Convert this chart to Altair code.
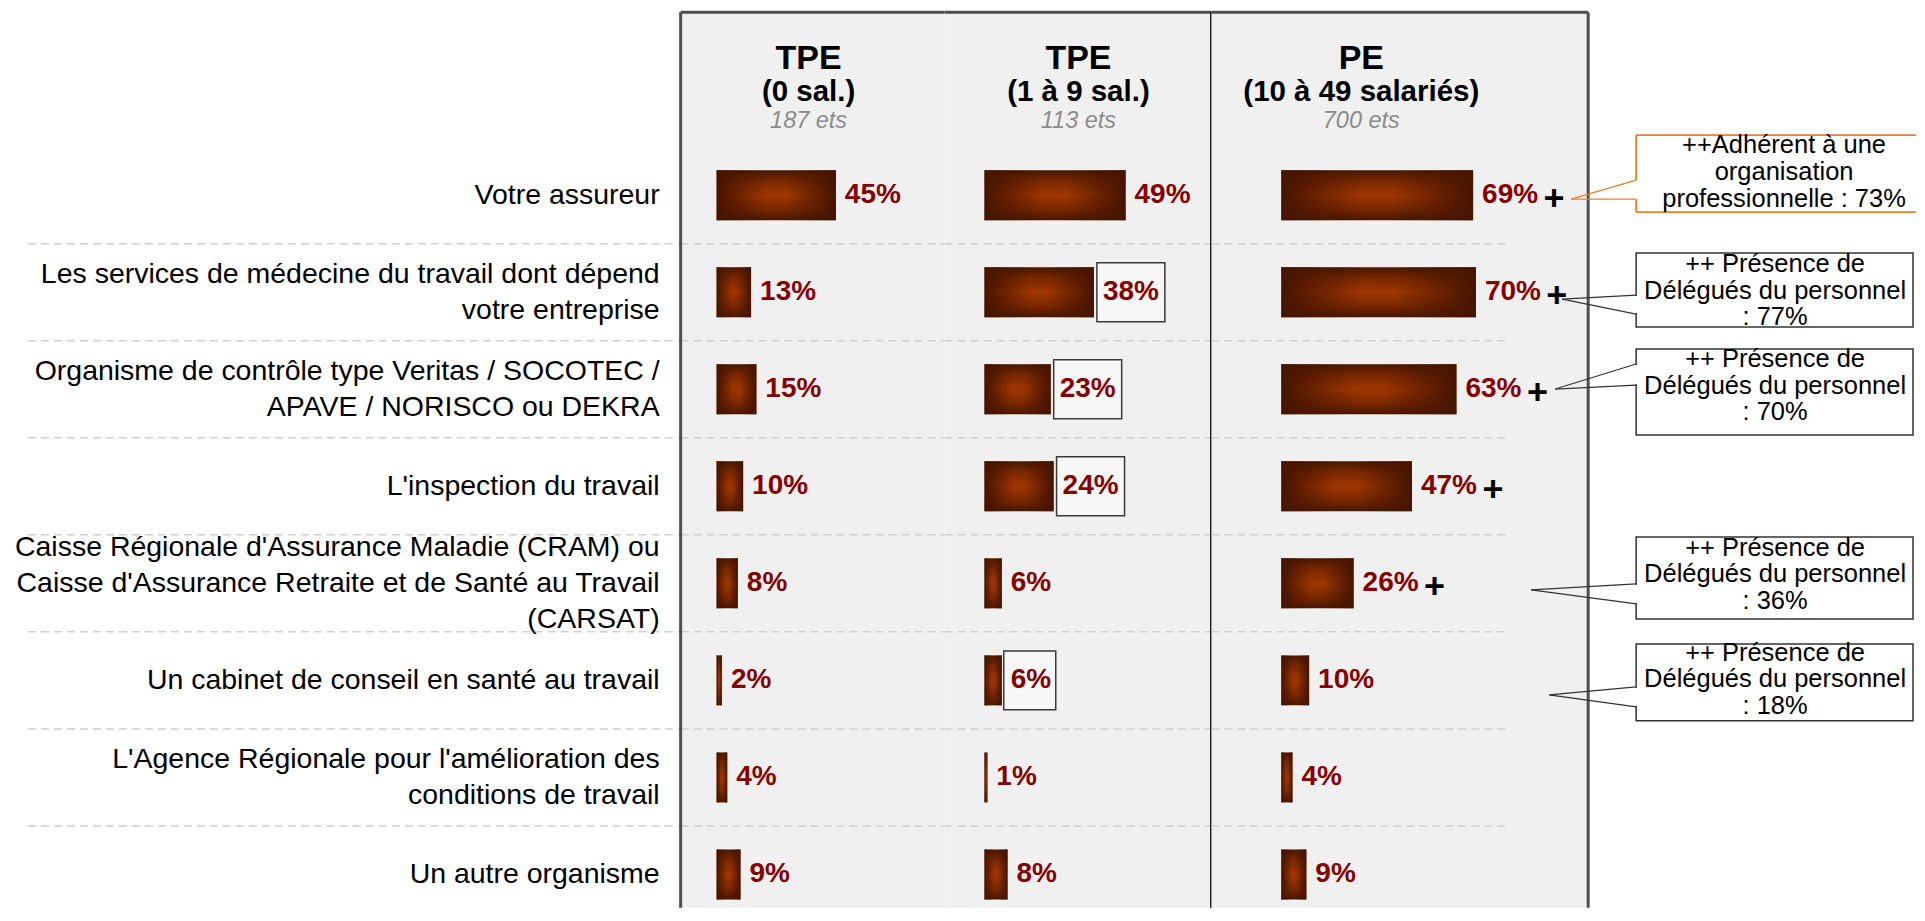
import altair as alt
import pandas as pd

# ---------------- data ----------------
row_labels = [
    "Votre assureur",
    "Les services de médecine du travail dont dépend|votre entreprise",
    "Organisme de contrôle type Veritas / SOCOTEC /|APAVE / NORISCO ou DEKRA",
    "L'inspection du travail",
    "Caisse Régionale d'Assurance Maladie (CRAM) ou|Caisse d'Assurance Retraite et de Santé au Travail|(CARSAT)",
    "Un cabinet de conseil en santé au travail",
    "L'Agence Régionale pour l'amélioration des|conditions de travail",
    "Un autre organisme",
]
tpe0_values = [45, 13, 15, 10, 8, 2, 4, 9]
tpe19_values = [49, 38, 23, 24, 6, 6, 1, 8]
pe_values = [69, 70, 63, 47, 26, 10, 4, 9]
tpe19_boxed = [0, 1, 1, 1, 0, 1, 0, 0]
pe_plus = [1, 1, 1, 1, 1, 0, 0, 0]

header_main = ["TPE", "TPE", "PE"]
header_sub = ["(0 sal.)", "(1 à 9 sal.)", "(10 à 49 salariés)"]
header_base = ["187 ets", "113 ets", "700 ets"]

callout_texts = [
    "++Adhérent à une|organisation|professionnelle : 73%",
    "++ Présence de|Délégués du personnel|: 77%",
    "++ Présence de|Délégués du personnel|: 70%",
    "++ Présence de|Délégués du personnel|: 36%",
    "++ Présence de|Délégués du personnel|: 18%",
]

# ---------------- layout / style ----------------
FONT = "Liberation Sans"
H = 896
LW, W0, W1, W2 = 673, 264, 267, 377
Y_RANGE = [134.45, 911.25]
BG = "#f0f0f0"
BORDER = "#4d4d4d"
PCT = "#870000"
SEP = "#cfcfcf"
DARK = "#4a1700"
BRIGHT = "#a03600"
LABEL_LH = 36

rows = list(range(8))
sep_df = pd.DataFrame({"row": rows[1:]})

VERT = alt.LinearGradient(
    gradient="linear",
    stops=[alt.GradientStop(color=DARK, offset=0),
           alt.GradientStop(color="#7a2800", offset=0.22),
           alt.GradientStop(color=BRIGHT, offset=0.5),
           alt.GradientStop(color="#7a2800", offset=0.78),
           alt.GradientStop(color=DARK, offset=1)],
    x1=0, x2=0, y1=0, y2=1,
)
HORIZ = alt.LinearGradient(
    gradient="linear",
    stops=[alt.GradientStop(color="rgba(70,20,0,1)", offset=0),
           alt.GradientStop(color="rgba(70,20,0,0)", offset=0.42),
           alt.GradientStop(color="rgba(70,20,0,0)", offset=0.58),
           alt.GradientStop(color="rgba(70,20,0,1)", offset=1)],
    x1=0, x2=1, y1=0, y2=0,
)


def yenc(**kw):
    return alt.Y("row:O",
                 scale=alt.Scale(domain=rows, range=Y_RANGE, paddingInner=0, paddingOuter=0),
                 axis=None, **kw)


def one(**kw):
    return alt.Chart(pd.DataFrame([kw if kw else {"k": 0}]))


def vrule(x, color, width, y1=0, y2=H):
    return one().mark_rule(color=color, strokeWidth=width).encode(
        x=alt.value(x), y=alt.value(y1), y2=alt.value(y2))


def hrule(y, color, width, x1, x2):
    return one().mark_rule(color=color, strokeWidth=width).encode(
        y=alt.value(y), x=alt.value(x1), x2=alt.value(x2))


def seg(x1, y1, x2, y2, color="#333333", width=1.2):
    return one().mark_rule(color=color, strokeWidth=width).encode(
        x=alt.value(x1), y=alt.value(y1), x2=alt.value(x2), y2=alt.value(y2))


def separators(x1, x2):
    return alt.Chart(sep_df).mark_rule(color=SEP, strokeWidth=1.5, strokeDash=[8, 5]).encode(
        y=yenc(bandPosition=0), x=alt.value(x1), x2=alt.value(x2))


def headers(i, cx):
    return [
        one(t=header_main[i]).mark_text(font=FONT, fontSize=34, fontWeight="bold", color="black",
                                       align="center", baseline="alphabetic").encode(
            x=alt.value(cx), y=alt.value(57), text="t:N"),
        one(t=header_sub[i]).mark_text(font=FONT, fontSize=29.5, fontWeight="bold", color="black",
                                      align="center", baseline="alphabetic").encode(
            x=alt.value(cx), y=alt.value(89), text="t:N"),
        one(t=header_base[i]).mark_text(font=FONT, fontSize=23.5, fontStyle="italic", color="#8c8c8c",
                                       align="center", baseline="alphabetic").encode(
            x=alt.value(cx), y=alt.value(116), text="t:N"),
    ]


def column(values, W, dom_max, x0, hidx, cx, sep_end, extra=None, boxed=None, plus=None):
    df = pd.DataFrame({
        "row": rows,
        "v": values,
        "lab": [f"{v}%" for v in values],
        "box": boxed if boxed else [0] * 8,
        "plus": plus if plus else [0] * 8,
    })
    xs = alt.Scale(domain=[0, dom_max], range=[x0, W], nice=False, zero=False)
    X = alt.X("v:Q", scale=xs, axis=None, stack=False)
    base = alt.Chart(df)
    bg = one().mark_rect(fill=BG).encode(
        x=alt.value(0), x2=alt.value(W), y=alt.value(0), y2=alt.value(H))
    layers = [bg, separators(0, sep_end)]
    layers.append(base.mark_bar(height=50, color=VERT).encode(x=X, y=yenc()))
    layers.append(base.mark_bar(height=50, color=HORIZ).encode(x=X, y=yenc()))
    if boxed:
        layers.append(base.transform_filter("datum.box == 1 && datum.v >= 10").mark_bar(
            height=59, xOffset=3, x2Offset=71, fill="#f7f7f7", stroke="#3a3a3a", strokeWidth=1.5
        ).encode(x=X, x2="v:Q", y=yenc()))
        layers.append(base.transform_filter("datum.box == 1 && datum.v < 10").mark_bar(
            height=59, xOffset=2, x2Offset=54, fill="#f7f7f7", stroke="#3a3a3a", strokeWidth=1.5
        ).encode(x=X, x2="v:Q", y=yenc()))
    layers.append(base.mark_text(font=FONT, fontSize=28, fontWeight="bold", color=PCT,
                                 align="left", baseline="middle", dx=9).encode(
        x=X, y=yenc(), text="lab:N"))
    if plus:
        layers.append(base.transform_filter("datum.plus == 1").mark_text(
            text="+", font=FONT, fontSize=36, fontWeight="bold", color="black",
            align="center", baseline="middle", dx=81, dy=4).encode(x=X, y=yenc()))
    layers += headers(hidx, cx)
    if extra:
        layers += extra
    return alt.layer(*layers).properties(width=W, height=H)


# ---------------- label panel ----------------
lab_df = pd.DataFrame({
    "row": rows,
    "label": row_labels,
    "nl": [lab.count("|") + 1 for lab in row_labels],
})
label_layers = [separators(20, LW)]
for n in (1, 2, 3):
    label_layers.append(
        alt.Chart(lab_df).transform_filter(f"datum.nl == {n}").mark_text(
            font=FONT, fontSize=28.5, color="black", align="right", baseline="middle",
            lineBreak="|", lineHeight=LABEL_LH, dy=-(n - 1) * LABEL_LH / 2
        ).encode(y=yenc(), x=alt.value(652), text="label:N")
    )
label_panel = alt.layer(*label_layers).properties(width=LW, height=H)

# ---------------- columns ----------------
p0_extra = [hrule(0, BORDER, 3, 0, W0), vrule(0, BORDER, 3)]
p1_extra = [hrule(0, BORDER, 3, 0, W1), vrule(W1, "black", 2.5)]

# callouts (in PE panel pixel space)
cal = []
OR = "#f07d28"
cal.append(one().mark_rect(fill="white").encode(
    x=alt.value(425), x2=alt.value(705), y=alt.value(123), y2=alt.value(200)))
cal += [hrule(123, OR, 1.8, 425, 705), hrule(200, OR, 1.8, 425, 705),
        seg(425, 123, 425, 168, OR, 1.8), seg(425, 187, 425, 200, OR, 1.8),
        seg(425, 168, 360, 187, OR, 1.3), seg(425, 187, 360, 187, OR, 1.3)]
cal.append(one(t=callout_texts[0]).mark_text(font=FONT, fontSize=25.5, color="black", align="center",
                                             baseline="middle", lineBreak="|", lineHeight=27).encode(
    x=alt.value(573), y=alt.value(133), text="t:N"))

black_boxes = [
    # (y1, y2, first text line y, wedge y top, wedge y bottom, tip x, tip y)
    (241, 315, 252, 283, 302, 351, 287),
    (337, 423, 347, 352, 373, 344, 377),
    (525, 607, 536, 572, 592, 320, 578),
    (632, 709, 641, 675, 695, 338, 683),
]
for i, (y1, y2, ty, wa, wb, tx, tyy) in enumerate(black_boxes):
    cal.append(one().mark_rect(fill="white", stroke="#333333", strokeWidth=1.5).encode(
        x=alt.value(425), x2=alt.value(702), y=alt.value(y1), y2=alt.value(y2)))
    cal.append(seg(425, wa + 1, 425, wb - 1, "white", 2.5))
    cal += [seg(425, wa, tx, tyy), seg(425, wb, tx, tyy)]
    cal.append(one(t=callout_texts[i + 1]).mark_text(font=FONT, fontSize=25.5, color="black",
                                                     align="center", baseline="middle",
                                                     lineBreak="|", lineHeight=26.5).encode(
        x=alt.value(564), y=alt.value(ty), text="t:N"))

p2_extra = [hrule(0, BORDER, 3, 0, W2), vrule(W2, BORDER, 3)] + cal

p0 = column(tpe0_values, W0, 86.0, 36, 0, 128, W0, extra=p0_extra)
p1 = column(tpe19_values, W1, 78.8, 40, 1, 134, W1, extra=p1_extra, boxed=tpe19_boxed)
p2 = column(pe_values, W2, 110.4, 70, 2, 150, 295, extra=p2_extra, plus=pe_plus)

chart = alt.hconcat(label_panel, p0, p1, p2, spacing=0, bounds="flush").resolve_scale(
    x="independent", y="independent"
).properties(
    padding={"left": 0, "top": 2, "right": 0, "bottom": 0}
).configure_view(stroke="transparent", strokeWidth=0)

chart.save("out.html", embed_options={"renderer": "svg", "actions": False})
